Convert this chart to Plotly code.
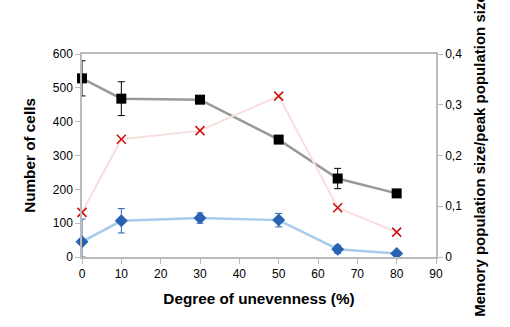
import plotly.graph_objects as go

unevenness = [0, 10, 30, 50, 65, 80]
total_cells = [528, 468, 465, 347, 232, 188]
total_err = [52, 50, 10, 0, 30, 0]
memory_cells = [45, 107, 115, 109, 23, 10]
memory_err_up = [67, 36, 15, 20, 12, 0]
memory_err_down = [45, 36, 15, 20, 12, 0]
ratio = [0.088, 0.232, 0.249, 0.317, 0.097, 0.049]

font = "Liberation Sans, Arial, sans-serif"
fig = go.Figure()
fig.add_trace(go.Scatter(
    x=unevenness, y=ratio, yaxis="y2", mode="lines+markers", cliponaxis=False,
    line=dict(color="#f9dede", width=2),
    marker=dict(symbol="x-thin-open", size=9, color="#cc1111", line=dict(width=1.6, color="#cc1111")),
    showlegend=False))
fig.add_trace(go.Scatter(
    x=unevenness, y=total_cells, mode="lines+markers", cliponaxis=False,
    line=dict(color="#999999", width=2.5),
    marker=dict(symbol="square", size=10, color="#000000"),
    error_y=dict(type="data", array=total_err, color="#000000", thickness=1, width=3.5),
    showlegend=False))
fig.add_trace(go.Scatter(
    x=unevenness, y=memory_cells, mode="lines+markers", cliponaxis=False,
    line=dict(color="#a9cbed", width=2.5),
    marker=dict(symbol="diamond", size=10, color="#2a62b2"),
    error_y=dict(type="data", array=memory_err_up, arrayminus=memory_err_down,
                 color="#2a62b2", thickness=1, width=3.5),
    showlegend=False))

fig.update_layout(
    width=510, height=327,
    margin=dict(l=82, r=74, t=54, b=70),
    paper_bgcolor="white", plot_bgcolor="white",
    separators=", ",
    font=dict(family=font, size=12, color="#000000"),
    xaxis=dict(range=[0, 90], tickvals=list(range(0, 91, 10)), showgrid=False, zeroline=False,
               showline=True, linecolor="#bbbbbb", linewidth=1.5, mirror=True, automargin=False,
               ticks="outside", ticklen=5, tickcolor="#bbbbbb",
               title=dict(text="<b>Degree of unevenness (%)</b>", font=dict(size=15.3), standoff=13)),
    yaxis=dict(range=[0, 600], tickvals=list(range(0, 601, 100)), showgrid=False, zeroline=False,
               showline=True, linecolor="#bbbbbb", linewidth=1.5, automargin=False,
               ticks="outside", ticklen=5, tickcolor="#bbbbbb",
               title=dict(text="<b>Number of cells</b>", font=dict(size=15.3), standoff=13)),
    yaxis2=dict(range=[0, 0.4], tickvals=[0, 0.1, 0.2, 0.3, 0.4], overlaying="y", side="right",
                showgrid=False, zeroline=False, showline=True, linecolor="#bbbbbb", linewidth=1.5,
                automargin=False, ticks="outside", ticklen=5, tickcolor="#bbbbbb",
                title=dict(text="<b>Memory population size/peak population size</b>",
                           font=dict(size=15), standoff=13)),
)
fig.write_html("out.html", config={"displayModeBar": False},
               post_script="document.body.style.margin='0';")
